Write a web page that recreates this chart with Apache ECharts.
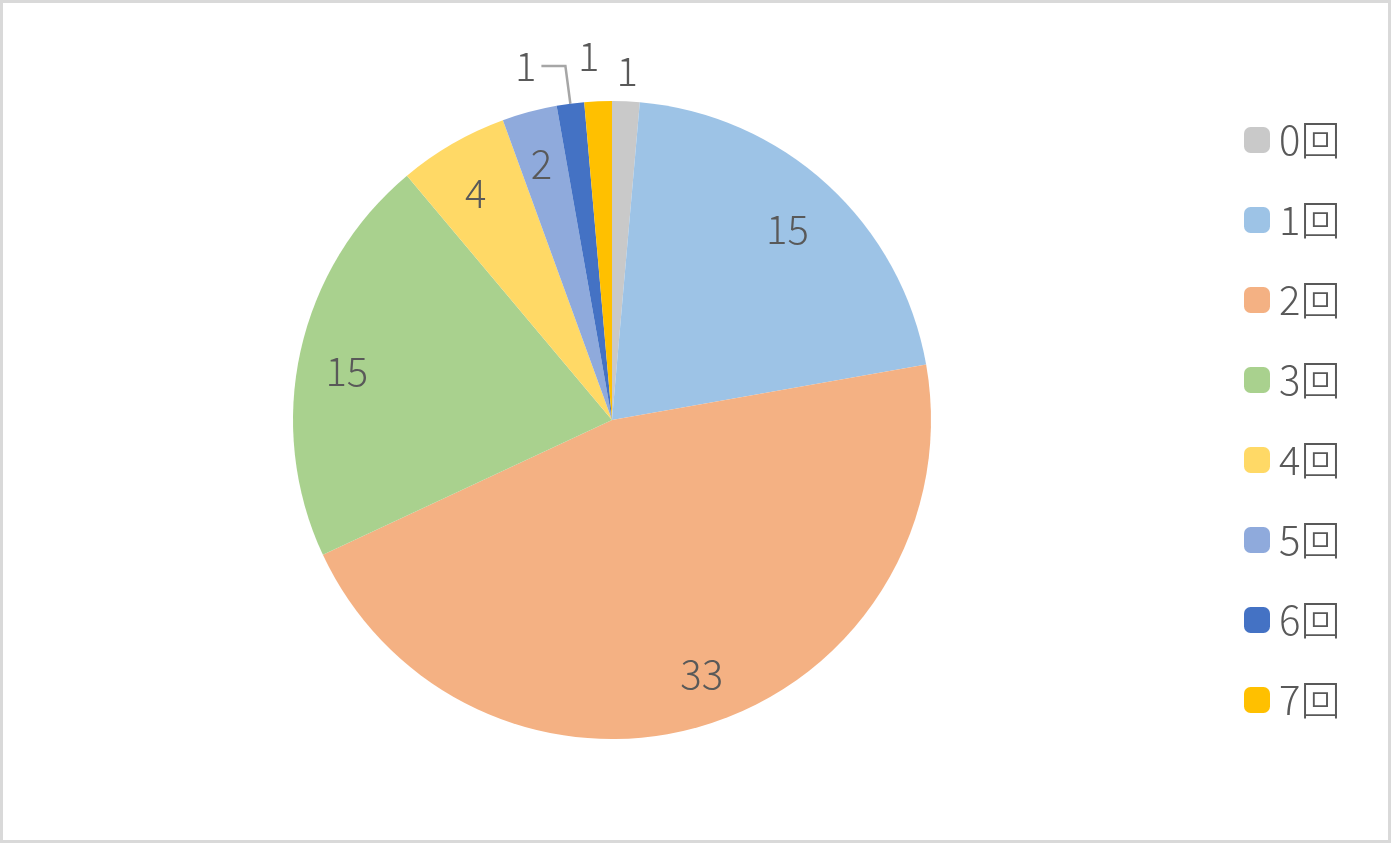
<!DOCTYPE html>
<html>
<head>
<meta charset="utf-8">
<script src="https://cdn.jsdelivr.net/npm/echarts@6/dist/echarts.min.js"></script>
<style>
html,body{margin:0;padding:0;background:#fff;}
#wrap{position:relative;width:1391px;height:843px;}
#chart{position:absolute;left:0;top:0;width:1391px;height:843px;}
#frame{position:absolute;left:0;top:0;width:1391px;height:843px;box-sizing:border-box;border:3px solid #d9d9d9;pointer-events:none;}
</style>
</head>
<body>
<div id="wrap"><div id="chart"></div><div id="frame"></div></div>
<script>
const categories = ['0回','1回','2回','3回','4回','5回','6回','7回'];
const values = [1, 15, 33, 15, 4, 2, 1, 1];
const colors = ['#c9c9c9','#9dc3e6','#f4b183','#a9d18e','#ffd966','#8faadc','#4472c4','#ffc000'];
// which labels go where
const innerLabelCats = ['1回','2回','3回','4回','5回'];
const outerLabelCats = ['0回','7回'];
const lineLabelCats = ['6回'];
// small label nudges (style only)
const labelNudge = {'1回':[-6,7],'2回':[9,-2],'3回':[-3,9],'4回':[-2,5],'5回':[-1,3],'7回':[-8,-14],'0回':[0,1]};

const FONT = '"Noto Sans CJK JP", "Noto Sans", sans-serif';
const TXT = '#595959';
const center = [612, 420];
const R = 319;

const chart = echarts.init(document.getElementById('chart'), null, {renderer:'canvas'});

const mainData = categories.map((c,i)=>({
  name:c, value:values[i], itemStyle:{color:colors[i]},
  label:{show: lineLabelCats.includes(c)},
  labelLine:{show: lineLabelCats.includes(c)}
}));
const innerData = categories.map((c,i)=>({
  name:c, value:values[i],
  label:{show: innerLabelCats.includes(c), offset: labelNudge[c] || [0,0]}
}));
const outerData = categories.map((c,i)=>({
  name:c, value:values[i],
  label:{show: outerLabelCats.includes(c), offset: labelNudge[c] || [0,0]}
}));

const labelStyle = {color:TXT, fontSize:40, fontFamily:FONT, fontWeight:300, formatter:'{c}'};

chart.setOption({
  animation:false,
  backgroundColor:'#fff',
  legend:{
    orient:'vertical', left:1244, top:120, padding:0,
    itemWidth:26, itemHeight:26, itemGap:40, icon:'roundRect',
    textStyle:{color:TXT, fontSize:40, fontFamily:FONT, fontWeight:300, lineHeight:40, padding:[0,0,0,4]},
    data:categories.map((c,i)=>({name:c, itemStyle:{color:colors[i]}}))
  },
  series:[
    {
      type:'pie', center:center, radius:[0,R], startAngle:90, clockwise:true,
      avoidLabelOverlap:false, silent:true,
      label:Object.assign({position:'outside'}, labelStyle),
      labelLine:{length:38, length2:24, smooth:false, lineStyle:{color:'#a6a6a6', width:2.5}},
      data:mainData
    },
    {
      type:'pie', center:center, radius:[212,R], startAngle:90, clockwise:true,
      avoidLabelOverlap:false, silent:true,
      itemStyle:{color:'rgba(0,0,0,0)'},
      label:Object.assign({position:'inside'}, labelStyle),
      labelLine:{show:false},
      data:innerData
    },
    {
      type:'pie', center:center, radius:[R,377], startAngle:90, clockwise:true,
      avoidLabelOverlap:false, silent:true,
      itemStyle:{color:'rgba(0,0,0,0)'},
      label:Object.assign({position:'inside'}, labelStyle),
      labelLine:{show:false},
      data:outerData
    }
  ]
});
</script>
</body>
</html>
